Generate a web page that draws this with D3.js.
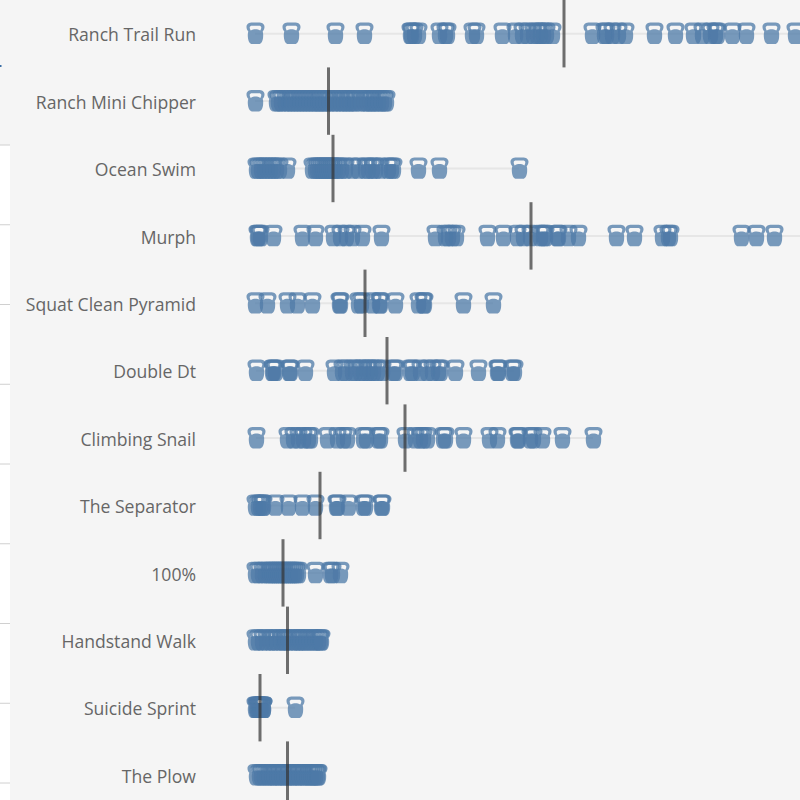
<!DOCTYPE html>
<html><head><meta charset="utf-8">
<script src="https://cdn.jsdelivr.net/npm/d3@7"></script>
<style>html,body{margin:0;padding:0;background:#f5f5f5;overflow:hidden}svg{display:block}</style>
</head><body><svg id="c" width="800" height="800"></svg>
<script>
const workouts = ["Ranch Trail Run","Ranch Mini Chipper","Ocean Swim","Murph","Squat Clean Pyramid","Double Dt","Climbing Snail","The Separator","100%","Handstand Walk","Suicide Sprint","The Plow"];
const ranchTrailRun = [8,44,88,117,163,164,167,171,192,198,200,225,229,255,268,275,280,286,290,293,296,299,305,345,357,359,365,371,378,407,428,446,455,463,468,470,485,499,524,548,570];
const ranchMiniChipper = [8,29,31,34,38,41,44,47,50,53,56,59,62,65,68,71,73,76,79,82,86,89,93,96,99,102,105,108,113,117,120,123,125,128,131,134,137,139];
const oceanSwim = [9,11,14,17,20,23,26,29,32,40,65,68,70,72,74,76,78,80,82,84,86,88,91,94,98,105,111,118,121,125,128,133,141,144,146,171,192,272];
const murph = [10,11,13,26,55,68,86,93,99,105,115,134,188,198,201,205,209,240,256,270,276,283,293,296,298,310,311,321,331,369,387,415,421,423,494,509,527,570];
const squatCleanPyramid = [8,20,40,50,65,92,93,111,114,125,132,133,148,171,176,177,216,246];
const doubleDt = [9,25,26,28,42,43,58,87,95,98,105,108,113,116,120,123,126,130,135,146,148,163,165,173,180,185,191,193,208,231,250,251,265,267];
const climbingSnail = [9,40,46,51,56,61,63,80,90,96,100,116,119,131,133,158,168,173,176,180,196,198,216,242,250,270,271,283,286,295,315,346];
const theSeparator = [8,11,13,15,16,28,41,55,68,89,90,101,116,118,134,135];
const hundredPercent = [8,11,15,18,21,23,25,27,29,31,33,35,37,39,41,43,45,47,49,51,68,83,85,93];
const handstandWalk = [8,11,15,19,23,26,29,33,36,38,41,45,48,51,53,56,59,62,65,68,71,73,74];
const suicideSprint = [8,9,10,11,12,12,13,14,15,16,16,48];
const thePlow = [9,12,14,17,20,22,25,27,30,32,35,37,40,42,45,47,50,52,55,57,60,62,64,66,68,70,71];
const seriesValues = [ranchTrailRun,ranchMiniChipper,oceanSwim,murph,squatCleanPyramid,doubleDt,climbingSnail,theSeparator,hundredPercent,handstandWalk,suicideSprint,thePlow];
const averages = [317,81.5,86,284,118,140,158,73,36,40.5,13,40.5];

const svg = d3.select("#c");
const x = d3.scaleLinear().domain([0,553]).range([247,800]);
const y = d3.scaleBand().domain(workouts).range([0,808.8]);
const rowMid = d => y(d) + y.bandwidth()/2;

const stripY = d3.scaleLinear().domain([0,8]).range([145,783]);
const strip = svg.append("g");
strip.append("rect").attr("x",0).attr("y",stripY(0)).attr("width",10).attr("height",800-stripY(0)).attr("fill","#fff");
strip.selectAll("line").data(d3.range(9)).join("line")
  .attr("x1",0).attr("x2",10).attr("y1",stripY).attr("y2",stripY)
  .attr("stroke","#d0d0d0").attr("stroke-width",1);
strip.append("rect").attr("x",0).attr("y",65).attr("width",1.5).attr("height",2).attr("fill","#3a6ea5");

svg.append("g").selectAll("line").data(workouts).join("line")
  .attr("x1",(d,i)=>x(d3.min(seriesValues[i])))
  .attr("x2",(d,i)=>x(d3.max(seriesValues[i])))
  .attr("y1",rowMid).attr("y2",rowMid)
  .attr("stroke","#e6e6e6").attr("stroke-width",2);

const bell = "M-3,-10.6H3C6.5,-10.6 9,-9.2 9,-6.2C9,-4.4 8.2,-2.8 7.2,-1.8C7.8,0 7.8,2 7.6,4C7.3,8 5.5,10.8 3.5,10.8H-3.5C-5.5,10.8 -7.3,8 -7.6,4C-7.8,2 -7.8,0 -7.2,-1.8C-8.2,-2.8 -9,-4.4 -9,-6.2C-9,-9.2 -6.5,-10.6 -3,-10.6Z"+
  "M-3.2,-7.4C-4.8,-7.4 -5.8,-6.8 -5.8,-5.6C-5.8,-4.6 -5.4,-3.6 -4.8,-2.6C-3.4,-3.6 -1.5,-4 0,-4C1.5,-4 3.4,-3.6 4.8,-2.6C5.4,-3.6 5.8,-4.6 5.8,-5.6C5.8,-6.8 4.8,-7.4 3.2,-7.4Z";
const defs = svg.append("defs");
defs.append("filter").attr("id","soft").attr("filterUnits","userSpaceOnUse").attr("x",230).attr("y",0).attr("width",580).attr("height",800)
  .append("feGaussianBlur").attr("stdDeviation",0.7);
const marks = svg.append("g").attr("filter","url(#soft)");
workouts.forEach((w,i)=>{
  marks.append("g").selectAll("path").data(seriesValues[i]).join("path")
    .attr("d",bell).attr("fill-rule","evenodd")
    .attr("transform",v=>`translate(${x(v)+0.5},${rowMid(w)-0.5})`)
    .attr("fill","#4e79a7").attr("fill-opacity",0.75);
});

svg.append("g").selectAll("line").data(workouts).join("line")
  .attr("x1",(d,i)=>x(averages[i])).attr("x2",(d,i)=>x(averages[i]))
  .attr("y1",d=>y(d)).attr("y2",d=>y(d)+y.bandwidth())
  .attr("stroke","#333").attr("stroke-opacity",0.7).attr("stroke-width",3);

const axis = d3.axisLeft(y).tickSize(0).tickPadding(0);
const ax = svg.append("g").attr("transform","translate(196,2)").call(axis);
ax.select(".domain").remove();
ax.selectAll("text").attr("font-family","'Open Sans'").attr("font-size",17.6).attr("font-weight",400).attr("fill","#666");
</script></body></html>
